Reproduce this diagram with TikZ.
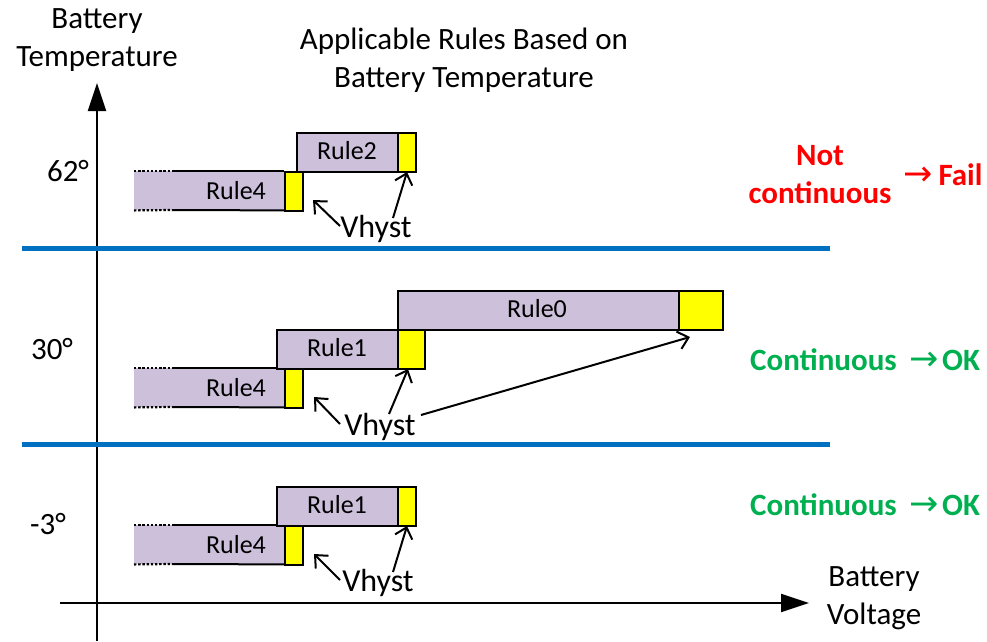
\documentclass[tikz,border=0pt]{standalone}
\usepackage{fontspec}
\setmainfont{Carlito}
\newfontfamily\arrowfont{DejaVu Sans}
\usetikzlibrary{arrows.meta}
\definecolor{rulefill}{HTML}{CCC0DA}
\definecolor{hystfill}{HTML}{FFFF00}
\definecolor{sepblue}{HTML}{0070C0}
\definecolor{okgreen}{HTML}{00B050}
\definecolor{failred}{HTML}{FF0000}
\newcommand{\rarr}{{\arrowfont\mdseries\fontsize{35}{38}\selectfont →}}
\tikzset{
  bigtext/.style={font=\fontsize{31}{38}\selectfont, align=center, inner sep=0pt},
  vhtext/.style={font=\fontsize{32}{38}\selectfont, inner sep=0pt},
  rulelabel/.style={font=\fontsize{26}{30}\selectfont, inner sep=0pt},
  rulebox/.style={draw=black, line width=2pt, fill=rulefill, inner sep=0pt, anchor=north west},
  rule4fill/.style={fill=rulefill, draw=none, inner sep=0pt, anchor=north west},
  hystbox/.style={draw=black, line width=2pt, fill=hystfill, inner sep=0pt, anchor=north west},
  edge/.style={line width=2pt},
  dotedge/.style={line width=2.2pt, dash pattern=on 2.4pt off 1.8pt},
  axis/.style={line width=2pt, -{Triangle[length=28pt,width=18pt]}},
  sepline/.style={sepblue, line width=5pt},
  hystarrow/.style={line width=2pt, -{Straight Barb[length=10pt,width=18pt,line width=2pt]}},
  status/.style={font=\bfseries\fontsize{31}{38}\selectfont, align=center, inner sep=0pt},
}
\begin{document}
\begin{tikzpicture}[x=1pt, y=-1pt]
\useasboundingbox (0,0) rectangle (987,641);

% axes
\coordinate (ybot) at (97,641);
\coordinate (ytop) at (97,83);
\coordinate (xleft) at (60,603);
\coordinate (xright) at (809,603);
\draw[axis] (ybot) -- (ytop);
\draw[axis] (xleft) -- (xright);

\node[bigtext] (ylab) at (97,40) {Battery\\Temperature};
\node[bigtext] (title) at (464,60) {Applicable Rules Based on\\Battery Temperature};
\node[bigtext] (xlab) at (874,598) {Battery\\Voltage};

% separators
\coordinate (s1a) at (22,248);
\coordinate (s1b) at (830,248);
\coordinate (s2a) at (22,444);
\coordinate (s2b) at (830,444);
\draw[sepline] (s1a) -- (s1b);
\draw[sepline] (s2a) -- (s2b);

% temperature labels
\node[bigtext] (t62) at (68,171) {62°};
\node[bigtext] (t30) at (52,349) {30°};
\node[bigtext] (tm3) at (48,524) {-3°};

% ---------- 62 degrees ----------
\node[rule4fill, minimum width=150, minimum height=39] (a4) at (134,171) {};
\draw[edge] (172,171) -- (a4.north east);
\draw[edge] (172,210) -- (a4.south east);
\draw[dotedge] (a4.north west) -- (172,171);
\draw[dotedge] (a4.south west) -- (172,210);
\node[rulelabel] at (236,191) {Rule4};
\node[hystbox, minimum width=18, minimum height=39] (a4y) at (284,171) {};
\node[rulebox, minimum width=101, minimum height=39] (a2) at (296,132) {};
\node[rulelabel] at (347,151) {Rule2};
\node[hystbox, minimum width=18, minimum height=39] (a2y) at (397,132) {};
\node[vhtext] (avh) at (376,229) {Vhyst};
\coordinate (aq1) at (340,226);
\coordinate (aq2) at (393,218);
\coordinate (ap1) at (313,200);
\coordinate (ap2) at (407,172);
\draw[hystarrow] (aq1) -- (ap1);
\draw[hystarrow] (aq2) -- (ap2);

% ---------- 30 degrees ----------
\node[rule4fill, minimum width=150, minimum height=39] (b4) at (134,368) {};
\draw[edge] (172,368) -- (b4.north east);
\draw[edge] (172,407) -- (b4.south east);
\draw[dotedge] (b4.north west) -- (172,368);
\draw[dotedge] (b4.south west) -- (172,407);
\node[rulelabel] at (236,388) {Rule4};
\node[hystbox, minimum width=18, minimum height=39] (b4y) at (284,368) {};
\node[rulebox, minimum width=121, minimum height=39] (b1) at (276,329) {};
\node[rulelabel] at (337,348) {Rule1};
\node[hystbox, minimum width=27, minimum height=39] (b1y) at (397,329) {};
\node[rulebox, minimum width=281, minimum height=39] (b0) at (397,290) {};
\node[rulelabel] at (537,309) {Rule0};
\node[hystbox, minimum width=44, minimum height=39] (b0y) at (678,290) {};
\node[vhtext] (bvh) at (380,427) {Vhyst};
\coordinate (bq1) at (340,424);
\coordinate (bq2) at (389,414);
\coordinate (bq3) at (421,415);
\coordinate (bp1) at (314,397);
\coordinate (bp2) at (408,369);
\coordinate (bp3) at (690,337);
\draw[hystarrow] (bq1) -- (bp1);
\draw[hystarrow] (bq2) -- (bp2);
\draw[hystarrow] (bq3) -- (bp3);

% ---------- -3 degrees ----------
\node[rule4fill, minimum width=150, minimum height=39] (c4) at (134,525) {};
\draw[edge] (172,525) -- (c4.north east);
\draw[edge] (172,564) -- (c4.south east);
\draw[dotedge] (c4.north west) -- (172,525);
\draw[dotedge] (c4.south west) -- (172,564);
\node[rulelabel] at (236,545) {Rule4};
\node[hystbox, minimum width=18, minimum height=39] (c4y) at (284,525) {};
\node[rulebox, minimum width=121, minimum height=39] (c1) at (276,486) {};
\node[rulelabel] at (337,505) {Rule1};
\node[hystbox, minimum width=18, minimum height=39] (c1y) at (397,486) {};
\node[vhtext] (cvh) at (378,583) {Vhyst};
\coordinate (cq1) at (340,580);
\coordinate (cq2) at (393,572);
\coordinate (cp1) at (314,554);
\coordinate (cp2) at (407,526);
\draw[hystarrow] (cq1) -- (cp1);
\draw[hystarrow] (cq2) -- (cp2);

% status messages
\node[status, text=failred] (nc) at (820,175) {Not\\continuous};
\node[status, text=failred, anchor=west] (fail) at (903,175) {\rarr\hspace{6pt}Fail};
\node[status, text=okgreen, anchor=west] (ok1) at (750,360) {Continuous\hspace{13pt}\rarr\hspace{3pt}OK};
\node[status, text=okgreen, anchor=west] (ok2) at (750,505) {Continuous\hspace{13pt}\rarr\hspace{3pt}OK};
\end{tikzpicture}
\end{document}
